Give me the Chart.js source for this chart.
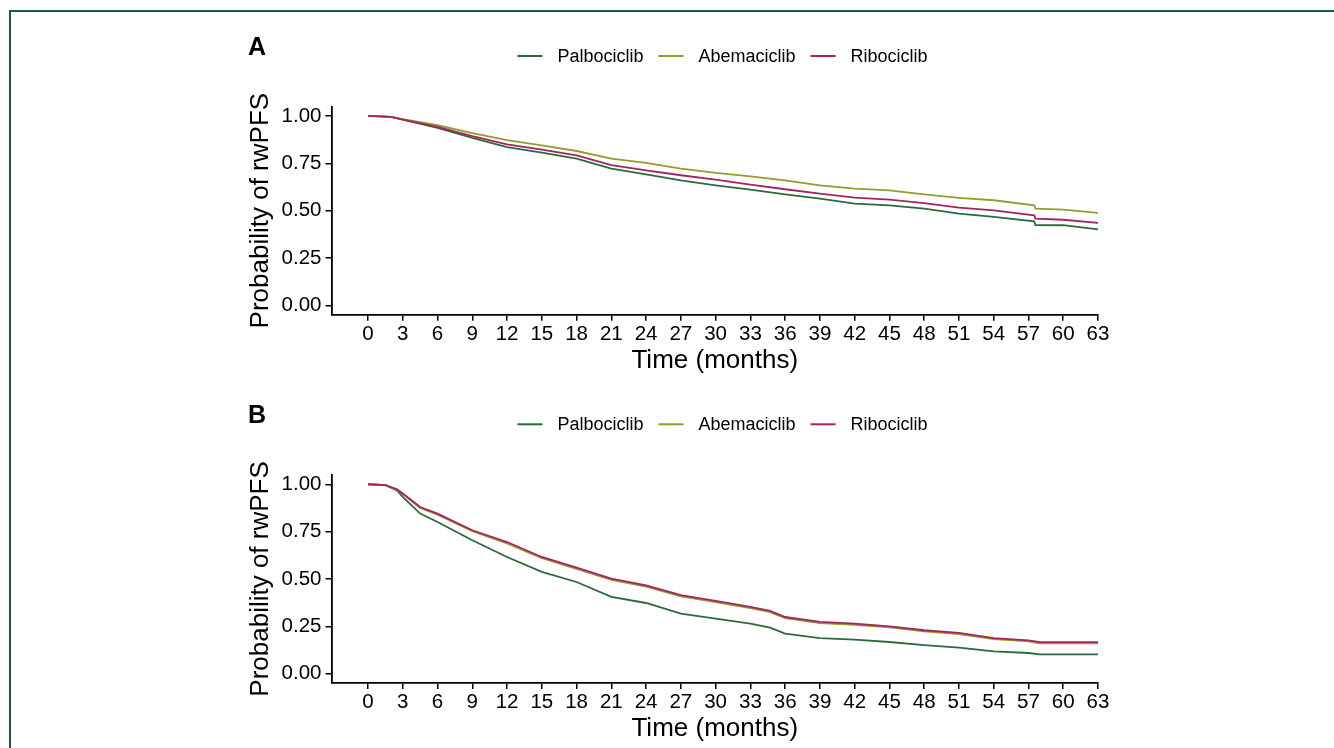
<!DOCTYPE html>
<html>
<head>
<meta charset="utf-8">
<script src="https://cdn.jsdelivr.net/npm/chart.js@4.4.1/dist/chart.umd.min.js"></script>
<style>
  html, body { margin: 0; padding: 0; background: #fff; }
  #wrap { position: relative; width: 1334px; height: 748px; overflow: hidden; }
  #frame { position: absolute; left: 9px; top: 10px; width: 1400px; height: 800px;
           border-left: 2.5px solid #1d5c37; border-top: 2.5px solid #1d5c37; }
  canvas { position: absolute; left: 0; top: 0; }
</style>
</head>
<body>
<div id="wrap">
  <div id="frame"></div>
  <canvas id="panelA" width="1334" height="748"></canvas>
  <canvas id="panelB" width="1334" height="748"></canvas>
</div>
<script>
const drugs = ['Palbociclib', 'Abemaciclib', 'Ribociclib'];
const colors = ['#2b6a3d', '#979a2c', '#a3245e'];
const xTicks = [0, 3, 6, 9, 12, 15, 18, 21, 24, 27, 30, 33, 36, 39, 42, 45, 48, 51, 54, 57, 60, 63];
const yTicks = [0, 0.25, 0.5, 0.75, 1];

// panel A
const monthsA = [0, 2, 3, 6, 9, 12, 15, 18, 21, 24, 27, 30, 33, 36, 39, 42, 45, 48, 51, 54, 57.5, 57.6, 60, 63];
const palboA = [1, 0.995, 0.981, 0.937, 0.884, 0.836, 0.806, 0.775, 0.722, 0.692, 0.660, 0.634, 0.611, 0.586, 0.564, 0.537, 0.528, 0.511, 0.484, 0.467, 0.443, 0.424, 0.423, 0.401];
const abemaA = [1, 0.995, 0.983, 0.951, 0.910, 0.872, 0.845, 0.815, 0.775, 0.752, 0.722, 0.699, 0.681, 0.660, 0.634, 0.616, 0.607, 0.586, 0.567, 0.555, 0.528, 0.511, 0.505, 0.488];
const riboA = [1, 0.995, 0.981, 0.942, 0.893, 0.850, 0.822, 0.792, 0.740, 0.713, 0.687, 0.664, 0.637, 0.613, 0.590, 0.569, 0.558, 0.540, 0.516, 0.502, 0.475, 0.458, 0.452, 0.435];

// panel B
const monthsB = [0, 1.5, 2.5, 3, 4.5, 6, 9, 12, 15, 18, 21, 24, 27, 30, 33, 34.7, 36, 39, 42, 45, 48, 51, 54, 57, 58, 63];
const palboB = [1, 0.995, 0.968, 0.933, 0.845, 0.801, 0.704, 0.616, 0.537, 0.484, 0.405, 0.373, 0.317, 0.291, 0.264, 0.243, 0.211, 0.188, 0.180, 0.167, 0.150, 0.137, 0.118, 0.109, 0.102, 0.102];
const abemaB = [1, 0.995, 0.972, 0.950, 0.875, 0.840, 0.752, 0.688, 0.610, 0.553, 0.495, 0.459, 0.408, 0.378, 0.346, 0.325, 0.293, 0.267, 0.258, 0.244, 0.223, 0.209, 0.182, 0.170, 0.160, 0.160];
const riboB = [1, 0.995, 0.974, 0.951, 0.880, 0.845, 0.757, 0.695, 0.616, 0.560, 0.502, 0.466, 0.414, 0.384, 0.352, 0.331, 0.299, 0.273, 0.264, 0.250, 0.229, 0.215, 0.188, 0.176, 0.166, 0.166];

const FONT = '"Liberation Sans", Arial, Helvetica, sans-serif';
Chart.defaults.font.family = FONT;
Chart.defaults.color = '#000';

// panel letter + legend row drawn on the canvas
const kmLegend = {
  id: 'kmLegend',
  afterDraw(chart, args, opts) {
    const ctx = chart.ctx;
    const y0 = opts.y0;
    ctx.save();
    ctx.fillStyle = '#000';
    ctx.textBaseline = 'alphabetic';
    ctx.textAlign = 'left';
    ctx.font = 'bold 25px ' + FONT;
    ctx.fillText(opts.letter, 248, y0 + 55);

    ctx.font = '18px ' + FONT;
    ctx.textBaseline = 'middle';
    const sets = chart.data.datasets;
    const widths = sets.map(d => ctx.measureText(d.label).width);
    let total = 0;
    widths.forEach(w => total += 25 + 15 + w);
    total += 15 * (sets.length - 1);
    let x = 722.5 - total / 2;
    sets.forEach((d, i) => {
      ctx.strokeStyle = d.borderColor;
      ctx.lineWidth = 2;
      ctx.beginPath();
      ctx.moveTo(x, y0 + 56);
      ctx.lineTo(x + 25, y0 + 56);
      ctx.stroke();
      x += 40;
      ctx.fillText(d.label, x, y0 + 57);
      x += widths[i] + 15;
    });
    ctx.restore();
  }
};

function makeChart(id, letter, y0, months, series) {
  const datasets = series.map((vals, i) => ({
    label: drugs[i],
    data: months.map((m, j) => ({ x: m, y: vals[j] })),
    borderColor: colors[i],
    backgroundColor: colors[i],
    borderWidth: 1.8,
    pointRadius: 0,
    tension: 0,
    fill: false,
    order: 2 - i
  }));

  const top = 106.5 + y0;
  const bottom = 748 - (top + 208.3) - 61.6;

  new Chart(document.getElementById(id), {
    type: 'line',
    data: { datasets: datasets },
    options: {
      responsive: false,
      animation: false,
      layout: { padding: { left: 240, right: 236, top: top, bottom: bottom } },
      plugins: {
        legend: { display: false },
        tooltip: { enabled: false },
        kmLegend: { letter: letter, y0: y0 }
      },
      scales: {
        x: {
          type: 'linear',
          min: -3.15,
          max: 63,
          afterBuildTicks: s => { s.ticks = xTicks.map(v => ({ value: v })); },
          afterFit: s => { s.height = 61.6; },
          ticks: { font: { size: 20.5 }, color: '#000', padding: 1, maxRotation: 0, autoSkip: false },
          grid: { drawOnChartArea: false, drawTicks: true, tickLength: 6, color: '#000', lineWidth: 1.5 },
          border: { display: true, color: '#000', width: 1.8 },
          title: { display: true, text: 'Time (months)', font: { size: 26 }, color: '#000', padding: 0 }
        },
        y: {
          min: -0.05,
          max: 1.05,
          afterBuildTicks: s => { s.ticks = yTicks.map(v => ({ value: v })); },
          afterFit: s => { s.width = 91.5; },
          ticks: { font: { size: 20.5 }, color: '#000', padding: 4, callback: v => v.toFixed(2) },
          grid: { drawOnChartArea: false, drawTicks: true, tickLength: 6, color: '#000', lineWidth: 1.5 },
          border: { display: true, color: '#000', width: 1.8 },
          title: { display: true, text: 'Probability of rwPFS', font: { size: 26 }, color: '#000', padding: { top: 5 } }
        }
      }
    },
    plugins: [kmLegend]
  });
}

makeChart('panelA', 'A', 0, monthsA, [palboA, abemaA, riboA]);
makeChart('panelB', 'B', 368.3, monthsB, [palboB, abemaB, riboB]);
</script>
</body>
</html>
